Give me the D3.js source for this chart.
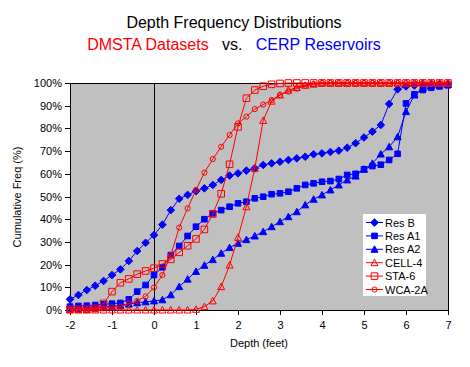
<!DOCTYPE html>
<html><head><meta charset="utf-8">
<script src="https://cdn.jsdelivr.net/npm/d3@7"></script>
<style>
body{margin:0;background:#fff;}
svg{display:block;font-family:"Liberation Sans",Arial,sans-serif;}
</style></head>
<body><svg id="c" width="470" height="367"></svg>
<script>
const depths = [-2,-1.8,-1.6,-1.4,-1.2,-1,-0.8,-0.6,-0.4,-0.2,0,0.2,0.4,0.6,0.8,1,1.2,1.4,1.6,1.8,2,2.2,2.4,2.6,2.8,3,3.2,3.4,3.6,3.8,4,4.2,4.4,4.6,4.8,5,5.2,5.4,5.6,5.8,6,6.2,6.4,6.6,6.8,7];
const resB = [4.7,6.6,8.8,10.7,12.8,15.4,17.9,21.6,26,29.6,33,37.6,44,49,50.7,52.3,53.6,55.1,57.3,59.2,60.2,61.4,62.4,63.9,64.6,65.3,66.1,66.8,67.5,68.6,69,69.6,70.2,71.5,73.5,76,78.6,81.5,90.8,97.2,98.5,98.9,99.1,99.3,99.5,99.6];
const resA1 = [1.5,1.8,1.9,2.2,2.5,2.8,3.1,4.7,8.1,11,15.4,18.8,24.2,28.2,32.6,36.7,40,42.6,44,45.5,47,47.7,49.2,49.9,51,51.4,52.1,53.6,55.1,55.8,56.5,56.8,57.7,59.5,60,62,63.4,64,66.1,68.8,91,95,96.9,97.9,98.5,99];
const resA2 = [0.5,0.7,0.9,1.1,1.3,1.6,2,2.6,3.2,3.6,4,4.5,6.7,10.3,13.6,17,19.7,22.2,25,27.5,29.4,31,32.6,34.5,36.7,38.9,41.1,43.3,46.3,48.8,50.7,52.9,55.1,57.3,59,62,64.6,68.7,71.9,76.3,87.4,94.7,97.7,98.7,99.1,99.3];
const cell4 = [0,0,0,0,0,0,0,0,0,0,0,0,0,0,0,0.3,1.5,4,10.3,19.8,32,45.5,62.4,83.5,92,94.7,96.9,98,99,99.5,100,100,100,100,100,100,100,100,100,100,100,100,100,100,100,100];
const sta6 = [0.3,0.3,0.3,0.7,2.9,8.1,12,13.7,15.8,17.2,18.4,20.3,22.3,25.4,28.3,31.3,35.5,42.3,51.2,64.2,80.7,93.3,96.9,98.6,99.4,99.8,100,100,100,100,100,100,100,100,100,100,100,100,100,100,100,100,100,100,100,100];
const wca2a = [0.1,0.1,0.2,0.3,0.7,1.2,1.5,2.9,4,6,9.9,15.4,24.2,36.3,44.8,52.9,60.5,66.5,71.9,77.1,82.2,85.2,88.5,90.5,92.5,94.7,96.2,97.5,98.8,99.5,100,100,100,100,100,100,100,100,100,100,100,100,100,100,100,100];
const seriesNames = ["Res B","Res A1","Res A2","CELL-4","STA-6","WCA-2A"];
const xTicks = [-2,-1,0,1,2,3,4,5,6,7];
const yTicks = [0,10,20,30,40,50,60,70,80,90,100];

const series = [
  {name: seriesNames[0], values: resB, color: "#0000FF", marker: "diamond", filled: true},
  {name: seriesNames[1], values: resA1, color: "#0000FF", marker: "square", filled: true},
  {name: seriesNames[2], values: resA2, color: "#0000FF", marker: "triangle", filled: true},
  {name: seriesNames[3], values: cell4, color: "#FF0000", marker: "triangle", filled: false},
  {name: seriesNames[4], values: sta6, color: "#FF0000", marker: "square", filled: false},
  {name: seriesNames[5], values: wca2a, color: "#FF0000", marker: "circle", filled: false}
];

const L = 70, R = 448, T = 83, B = 310;
const svg = d3.select("#c");
const x = d3.scaleLinear().domain([-2, 7]).range([L, R]);
const y = d3.scaleLinear().domain([0, 100]).range([B, T]);

// Titles
svg.append("text").attr("x", 234).attr("y", 28).attr("text-anchor", "middle")
  .attr("font-size", 16).attr("fill", "#000").text("Depth Frequency Distributions");
const sub = svg.append("text").attr("x", 234).attr("y", 50).attr("text-anchor", "middle").attr("font-size", 16).attr("xml:space","preserve");
sub.append("tspan").attr("fill", "#FF0000").text("DMSTA Datasets");
sub.append("tspan").attr("fill", "#000").text("   vs.   ");
sub.append("tspan").attr("fill", "#0000FF").text("CERP Reservoirs");

// Plot area
svg.append("rect").attr("x", L).attr("y", T).attr("width", R - L).attr("height", B - T)
  .attr("fill", "#C0C0C0").attr("stroke", "#000").attr("stroke-width", 1)
  .attr("shape-rendering", "crispEdges");

// zero line
svg.append("line").attr("x1", x(0)).attr("x2", x(0)).attr("y1", T).attr("y2", B)
  .attr("stroke", "#000").attr("shape-rendering", "crispEdges");

// Axes
const ax = svg.append("g").attr("transform", `translate(0,${B})`)
  .call(d3.axisBottom(x).tickValues(xTicks).tickSize(5).tickPadding(6).tickFormat(d3.format("d")));
const ay = svg.append("g").attr("transform", `translate(${L},0)`)
  .call(d3.axisLeft(y).tickValues(yTicks).tickSize(5).tickPadding(3).tickFormat(d => d + "%"));
[ax, ay].forEach(g => {
  g.selectAll("path,line").attr("stroke", "#000").attr("shape-rendering", "crispEdges");
  g.selectAll("text").attr("font-size", 11).attr("fill", "#000").attr("font-family", "Liberation Sans, Arial, sans-serif");
});
ax.selectAll("text").text(d => d < 0 ? "-" + Math.abs(d) : d);

svg.append("text").attr("x", 259).attr("y", 347).attr("text-anchor", "middle")
  .attr("font-size", 11).text("Depth (feet)");
svg.append("text").attr("transform", "translate(21,197) rotate(-90)").attr("text-anchor", "middle")
  .attr("font-size", 11).text("Cumulative Freq (%)");

function markerPath(type) {
  if (type === "diamond") return "M0,-3.8L3.8,0L0,3.8L-3.8,0Z";
  if (type === "square") return "M-2.8,-2.8H2.8V2.8H-2.8Z";
  if (type === "triangle") return "M0,-3.5L3.5,3L-3.5,3Z";
  return null;
}
function drawMarker(g, s, cx, cy) {
  const stroke = s.color;
  const fill = s.filled ? s.color : "none";
  if (s.marker === "circle") {
    g.append("circle").attr("cx", cx).attr("cy", cy).attr("r", 2.6)
      .attr("fill", fill).attr("stroke", stroke).attr("stroke-width", 1);
  } else {
    let p = markerPath(s.marker);
    if (!s.filled && s.marker === "square") p = "M-3.3,-3.3H3.3V3.3H-3.3Z";
    g.append("path").attr("d", p).attr("transform", `translate(${cx},${cy})`)
      .attr("fill", fill).attr("stroke", stroke).attr("stroke-width", 1);
  }
}

const line = d3.line().x((d, i) => x(depths[i])).y(d => y(d));
series.forEach(s => {
  const g = svg.append("g");
  g.append("path").datum(s.values).attr("d", line).attr("fill", "none")
    .attr("stroke", s.color).attr("stroke-width", 1);
  s.values.forEach((v, i) => drawMarker(g, s, x(depths[i]), y(v)));
});

// Legend
const lg = svg.append("g");
lg.append("rect").attr("x", 363).attr("y", 214).attr("width", 63).attr("height", 82).attr("fill", "#fff");
series.forEach((s, i) => {
  const cy = 222.5 + i * 13.4;
  lg.append("line").attr("x1", 366).attr("x2", 383).attr("y1", cy).attr("y2", cy)
    .attr("stroke", s.color).attr("stroke-width", 1);
  drawMarker(lg, s, 374.5, cy);
  lg.append("text").attr("x", 385).attr("y", cy + 4).attr("font-size", 11).attr("fill", "#000").text(s.name);
});
</script></body></html>
